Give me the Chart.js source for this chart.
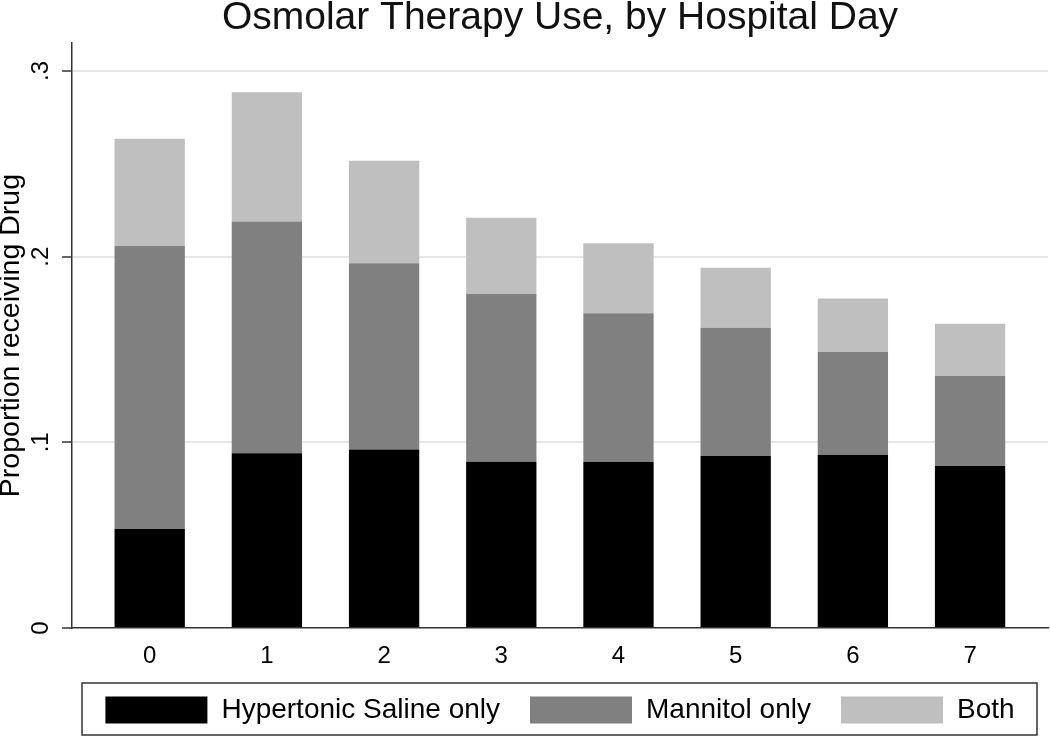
<!DOCTYPE html>
<html>
<head>
<meta charset="utf-8">
<script src="https://cdn.jsdelivr.net/npm/chart.js@4/dist/chart.umd.min.js"></script>
<style>
    html, body { margin: 0; padding: 0; background: #fff; }
    #wrap { width: 1050px; height: 737px; }
</style>
</head>
<body>
<div id="wrap"><canvas id="chart"></canvas></div>
<script>
let days = [0, 1, 2, 3, 4, 5, 6, 7];
let salineOnly = [0.0533, 0.0941, 0.0962, 0.0896, 0.0894, 0.0926, 0.0932, 0.0872];
let mannitolOnly = [0.1524, 0.1249, 0.1002, 0.0903, 0.0801, 0.0691, 0.0554, 0.0485];
let both = [0.0578, 0.0695, 0.0552, 0.0410, 0.0377, 0.0323, 0.0289, 0.0282];
let yTicks = [0, 0.1, 0.2, 0.3];
let yTickLabels = ['0', '.1', '.2', '.3'];

Chart.defaults.font.family = "'Liberation Sans', Arial, sans-serif";
Chart.defaults.color = '#000';

let toPoints = function (values) {
    return values.map(function (v, i) { return { x: days[i], y: v }; });
};

// box round the legend, like stata draws it
let legendFrame = {
    id: 'legendFrame',
    afterDraw: function (chart) {
        let boxes = chart.legend.legendHitBoxes;
        if (!boxes || !boxes.length) return;
        let area = chart.chartArea;
        let ctx = chart.ctx;
        ctx.save();
        ctx.strokeStyle = '#333';
        ctx.lineWidth = 1.5;
        ctx.strokeRect(area.left + 10, boxes[0].top - 13, area.right - area.left - 21, 52);
        ctx.restore();
    }
};

let chart = new Chart(document.getElementById('chart').getContext('2d'), {
    type: 'bar',
    data: {
        datasets: [{
            label: 'Hypertonic Saline only',
            data: toPoints(salineOnly),
            backgroundColor: '#000000'
        }, {
            label: 'Mannitol only',
            data: toPoints(mannitolOnly),
            backgroundColor: '#808080'
        }, {
            label: 'Both',
            data: toPoints(both),
            backgroundColor: '#bfbfbf'
        }]
    },
    options: {
        responsive: true,
        maintainAspectRatio: false,
        animation: false,
        layout: { padding: { left: 0, right: 2, top: 0, bottom: 3 } },
        datasets: {
            bar: { barPercentage: 0.6, categoryPercentage: 1.0, borderWidth: 0 }
        },
        plugins: {
            title: {
                display: true,
                fullSize: false,
                text: 'Osmolar Therapy Use, by Hospital Day',
                color: '#111',
                font: { size: 39, weight: 'normal', lineHeight: 0.85 },
                padding: { top: 2, bottom: 8 }
            },
            legend: {
                position: 'bottom',
                fullSize: false,
                labels: {
                    boxWidth: 102,
                    boxHeight: 27,
                    padding: 30,
                    color: '#000',
                    font: { size: 28 }
                }
            },
            tooltip: { enabled: false }
        },
        scales: {
            x: {
                type: 'linear',
                stacked: true,
                offset: false,
                min: -0.663,
                max: 7.665,
                afterBuildTicks: function (scale) {
                    scale.ticks = days.map(function (d) { return { value: d }; });
                },
                afterFit: function (scale) { scale.height = 38; },
                grid: { display: false, drawTicks: false },
                border: { display: true, color: '#333', width: 1.5 },
                ticks: {
                    padding: 14,
                    font: { size: 24 },
                    color: '#000',
                    maxRotation: 0,
                    callback: function (v) { return String(v); }
                }
            },
            y: {
                stacked: true,
                min: 0,
                max: 0.315,
                afterBuildTicks: function (scale) {
                    scale.ticks = yTicks.map(function (v) { return { value: v }; });
                },
                afterFit: function (scale) { scale.width = 72; },
                grid: {
                    color: function (c) { return c.tick && c.tick.value === 0 ? 'rgba(0,0,0,0)' : '#e6e6e6'; },
                    lineWidth: 2,
                    drawTicks: true,
                    tickLength: 10,
                    tickColor: '#333',
                    tickWidth: 1.5
                },
                border: { display: true, color: '#333', width: 1.5 },
                ticks: {
                    padding: 11,
                    crossAlign: 'center',
                    minRotation: 90,
                    maxRotation: 90,
                    font: { size: 24 },
                    color: '#000',
                    callback: function (v, i) { return yTickLabels[i]; }
                },
                title: {
                    display: true,
                    text: 'Proportion receiving Drug',
                    color: '#000',
                    font: { size: 28.5, lineHeight: 0.8 },
                    padding: 0
                }
            }
        }
    },
    plugins: [legendFrame]
});
</script>
</body>
</html>
